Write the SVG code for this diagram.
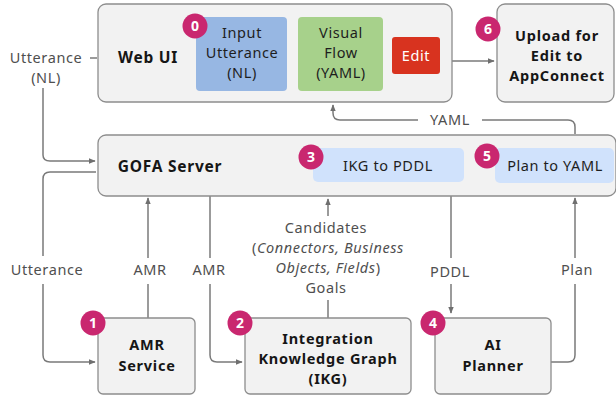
<svg xmlns="http://www.w3.org/2000/svg" width="616" height="396" viewBox="0 0 616 396">
  <defs>
    <marker id="arr" viewBox="0 0 10 10" refX="9" refY="5" markerWidth="7" markerHeight="7" orient="auto-start-reverse" markerUnits="userSpaceOnUse">
      <path d="M0,1 L10,5 L0,9 z" fill="#6f6f6f"/>
    </marker>
    <style>
      .box { fill: #f2f2f2; stroke: #8d8d8d; stroke-width: 1.3; }
      .t { font-family: "Noto Sans", "Open Sans", sans-serif; font-size: 14.5px; letter-spacing: 0.6px; fill: #1e1e1e; text-anchor: middle; }
      .b { font-weight: bold; fill: #161616; letter-spacing: 0.75px; }
      .lbl { font-family: "Noto Sans", "Open Sans", sans-serif; font-size: 14.5px; letter-spacing: 0.6px; fill: #4f4f4f; text-anchor: middle; }
      .conn { fill: none; stroke: #7a7a7a; stroke-width: 1.5; }
      .badge circle { fill: #c9276f; }
      .badge text { font-family: "Noto Sans", "Open Sans", sans-serif; font-size: 14px; font-weight: bold; fill: #ffffff; text-anchor: middle; }
    </style>
  </defs>

  <!-- connectors -->
  <g id="connectors">
    <!-- Web UI -> Upload -->
    <path class="conn" d="M452,61 L494,61" marker-end="url(#arr)"/>
    <!-- YAML back to Web UI -->
    <path class="conn" d="M575,134 L575,127 Q575,120 568,120 L482,120"/>
    <path class="conn" d="M418,120 L340,120 Q333,120 333,113 L333,105" marker-end="url(#arr)"/>
    <text class="lbl" x="450" y="125">YAML</text>
    <!-- Utterance (NL) -> GOFA -->
    <path class="conn" d="M90,58 L97,58"/>
    <path class="conn" d="M43,88 L43,155 Q43,161 50,161 L95,161" marker-end="url(#arr)"/>
    <text class="lbl" x="46" y="63">Utterance</text>
    <text class="lbl" x="46" y="83">(NL)</text>
    <!-- GOFA -> AMR Service (Utterance) -->
    <path class="conn" d="M96,172 L50,172 Q43,172 43,179 L43,256"/>
    <path class="conn" d="M43,284 L43,355 Q43,362 50,362 L95,362" marker-end="url(#arr)"/>
    <text class="lbl" x="47" y="275">Utterance</text>
    <!-- AMR Service -> GOFA (AMR) -->
    <path class="conn" d="M148,318 L148,284"/>
    <path class="conn" d="M148,258 L148,198" marker-end="url(#arr)"/>
    <text class="lbl" x="150" y="275">AMR</text>
    <!-- GOFA -> IKG (AMR) -->
    <path class="conn" d="M210,196 L210,258"/>
    <path class="conn" d="M210,284 L210,355 Q210,362 217,362 L242,362" marker-end="url(#arr)"/>
    <text class="lbl" x="209" y="275">AMR</text>
    <!-- IKG -> GOFA (Candidates / Goals) -->
    <path class="conn" d="M328,300 L328,318"/>
    <path class="conn" d="M328,216 L328,199" marker-end="url(#arr)"/>
    <text class="lbl" x="326" y="233">Candidates</text>
    <text class="lbl" x="328" y="253">(<tspan font-style="italic">Connectors, Business</tspan></text>
    <text class="lbl" x="328" y="273"><tspan font-style="italic">Objects, Fields</tspan>)</text>
    <text class="lbl" x="326" y="293">Goals</text>
    <!-- GOFA -> AI Planner (PDDL) -->
    <path class="conn" d="M451,196 L451,258"/>
    <path class="conn" d="M451,284 L451,313" marker-end="url(#arr)"/>
    <text class="lbl" x="450" y="277">PDDL</text>
    <!-- AI Planner -> GOFA (Plan) -->
    <path class="conn" d="M551,362 L568,362 Q575,362 575,355 L575,284"/>
    <path class="conn" d="M575,258 L575,198" marker-end="url(#arr)"/>
    <text class="lbl" x="577" y="275">Plan</text>
  </g>

  <!-- Web UI -->
  <g id="web-ui">
    <rect class="box" x="98" y="4" width="354" height="98" rx="8"/>
    <text class="t b" x="148" y="63" style="font-size:15.5px">Web UI</text>
    <rect x="196" y="17" width="91" height="74" rx="4" fill="#97b7e3"/>
    <text class="t" x="242" y="38">Input</text>
    <text class="t" x="242" y="58">Utterance</text>
    <text class="t" x="242" y="78">(NL)</text>
    <rect x="298" y="17" width="85" height="74" rx="4" fill="#a7d18b"/>
    <text class="t" x="341" y="38">Visual</text>
    <text class="t" x="341" y="58">Flow</text>
    <text class="t" x="341" y="78">(YAML)</text>
    <rect x="392" y="37" width="48" height="37" rx="3" fill="#d8331f"/>
    <text class="t" x="416" y="61" style="fill:#ffffff">Edit</text>
    <g class="badge"><circle cx="195" cy="26" r="12.5"/><text x="195" y="31">0</text></g>
  </g>

  <!-- Upload -->
  <g id="upload">
    <rect class="box" x="497" y="4" width="117" height="98" rx="8"/>
    <text class="t b" x="557" y="41">Upload for</text>
    <text class="t b" x="557" y="61">Edit to</text>
    <text class="t b" x="557" y="81">AppConnect</text>
    <g class="badge"><circle cx="488" cy="29" r="12.5"/><text x="488" y="34">6</text></g>
  </g>

  <!-- GOFA Server -->
  <g id="gofa-server">
    <rect class="box" x="98" y="135" width="518" height="61" rx="8"/>
    <text class="t b" x="170" y="172" style="font-size:15.5px">GOFA Server</text>
    <rect x="313" y="148" width="151" height="34" rx="5" fill="#d0e2fc"/>
    <text class="t" x="388" y="171">IKG to PDDL</text>
    <g class="badge"><circle cx="311" cy="157" r="12.5"/><text x="311" y="162">3</text></g>
    <rect x="495" y="148" width="119" height="35" rx="5" fill="#d0e2fc"/>
    <text class="t" x="555" y="171">Plan to YAML</text>
    <g class="badge"><circle cx="487" cy="156" r="12.5"/><text x="487" y="161">5</text></g>
  </g>

  <!-- AMR Service -->
  <g id="amr-service">
    <rect class="box" x="98" y="318" width="97" height="76" rx="5"/>
    <text class="t b" x="147" y="350">AMR</text>
    <text class="t b" x="147" y="371">Service</text>
    <g class="badge"><circle cx="93" cy="323" r="12.5"/><text x="93" y="328">1</text></g>
  </g>

  <!-- Integration Knowledge Graph -->
  <g id="ikg">
    <rect class="box" x="245" y="318" width="166" height="76" rx="5"/>
    <text class="t b" x="328" y="344">Integration</text>
    <text class="t b" x="328" y="364">Knowledge Graph</text>
    <text class="t b" x="328" y="384">(IKG)</text>
    <g class="badge"><circle cx="240" cy="323" r="12.5"/><text x="240" y="328">2</text></g>
  </g>

  <!-- AI Planner -->
  <g id="ai-planner">
    <rect class="box" x="435" y="318" width="116" height="76" rx="5"/>
    <text class="t b" x="493" y="350">AI</text>
    <text class="t b" x="493" y="371">Planner</text>
    <g class="badge"><circle cx="433" cy="323" r="12.5"/><text x="433" y="328">4</text></g>
  </g>
</svg>
